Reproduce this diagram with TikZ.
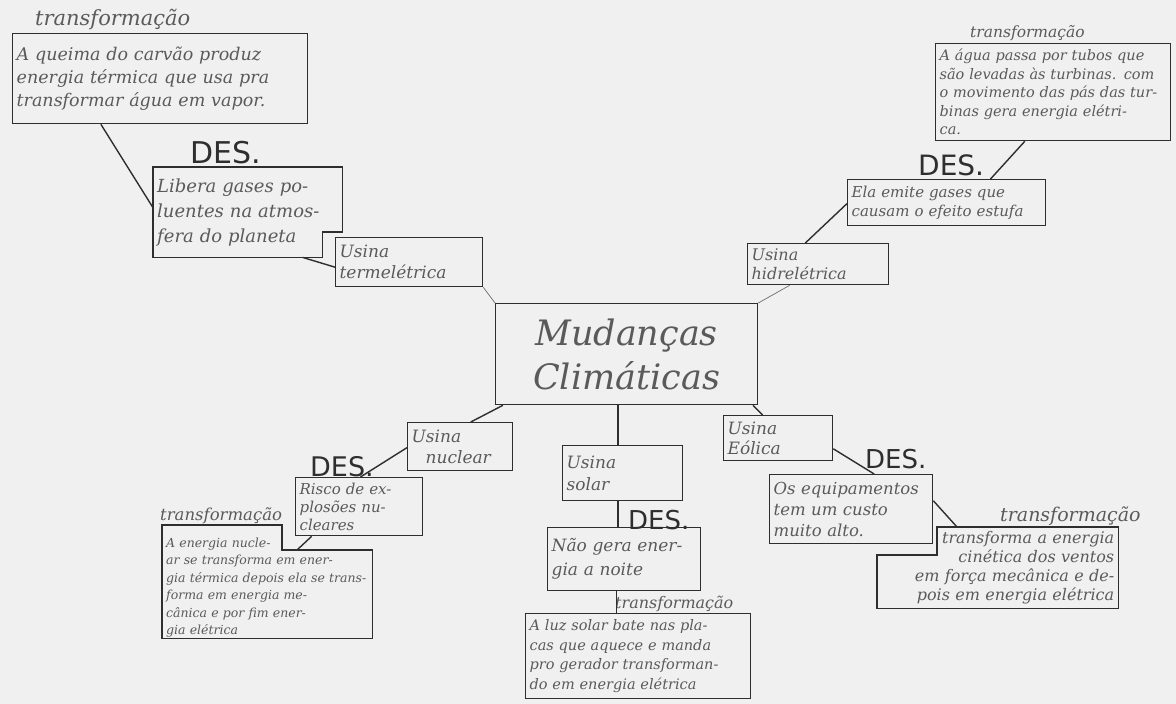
\documentclass[tikz,border=0pt]{standalone}
\usepackage{fontspec}
\setmainfont{DejaVu Serif}
\newfontfamily\desfont{DejaVu Sans}
\usetikzlibrary{calc}
\definecolor{paper}{HTML}{F0F0F0}
\definecolor{ink}{HTML}{2E2E2E}
\definecolor{pencil}{HTML}{5A5A5A}
\newcommand\hsz[2]{\fontsize{#1}{#2}\selectfont\itshape}
\tikzset{
  box/.style={draw=ink, line width=1.3pt, anchor=north west, inner xsep=4pt, inner ysep=0pt,
              align=left, text=pencil},
  shell/.style={anchor=north west, inner xsep=4pt, inner ysep=0pt, align=left, text=pencil},
  outline/.style={draw=ink, line width=1.3pt, line join=miter},
  link/.style={draw=ink, line width=1.4pt},
  thin/.style={draw=ink!70, line width=0.7pt},
  title/.style={anchor=south west, inner sep=0pt, text=pencil},
  des/.style={anchor=south west, inner sep=0pt, text=ink, font=\desfont},
}
\begin{document}
\begin{tikzpicture}[x=1pt,y=-1pt]
\useasboundingbox (0,0) rectangle (1176,704);
\fill[paper] (0,0) rectangle (1176,704);

% ---- central topic
\node[box, minimum width=262pt, minimum height=101pt, text width=254pt, align=center,
      font=\hsz{35}{44}] (c) at (495,303) {Mudanças\\Climáticas};

% ---- usina termelétrica branch
\node[box, minimum width=295pt, minimum height=90pt, text width=287pt, font=\hsz{17.5}{23}] (b1) at (12,33)
  {A queima do carvão produz\\energia térmica que usa pra\\transformar água em vapor.};
\node[title, font=\hsz{21}{24}] (t1) at (35,30) {transformação};
\node[shell, minimum width=189pt, minimum height=90pt, text width=181pt, font=\hsz{18}{25}] (b2) at (153,167)
  {Libera gases po-\\luentes na atmos-\\fera do planeta};
\draw[outline] (b2.north west) -- (b2.north east) -- ($(b2.north east)+(0,65)$)
  -- ($(b2.north east)+(-20,65)$) -- ($(b2.south east)+(-20,0)$) -- (b2.south west) -- cycle;
\node[des, font=\desfont\fontsize{30}{32}\selectfont] (d2) at (190,164) {DES.};
\node[box, minimum width=147pt, minimum height=49pt, text width=139pt, font=\hsz{17}{21}] (b3) at (335,237)
  {Usina\\termelétrica};

% ---- usina hidrelétrica branch
\node[box, minimum width=235pt, minimum height=97pt, text width=227pt, font=\hsz{14.5}{18.5}] (b4) at (935,43)
  {A água passa por tubos que\\são levadas às turbinas. com\\o movimento das pás das tur-\\binas gera energia elétri-\\ca.};
\node[title, font=\hsz{15.5}{18}] (t4) at (970,41) {transformação};
\node[box, minimum width=198pt, minimum height=46pt, text width=190pt, font=\hsz{15}{19}] (b5) at (847,179)
  {Ela emite gases que\\causam o efeito estufa};
\node[des, font=\desfont\fontsize{28}{30}\selectfont] (d5) at (918,176) {DES.};
\node[box, minimum width=141pt, minimum height=41pt, text width=133pt, font=\hsz{16}{19}] (b6) at (747,243)
  {Usina\\hidrelétrica};

% ---- usina nuclear branch
\node[box, minimum width=105pt, minimum height=48pt, text width=97pt, font=\hsz{17}{21}] (n) at (407,422)
  {Usina\\\hspace*{14pt}nuclear};
\node[box, minimum width=127pt, minimum height=58pt, text width=119pt, font=\hsz{15}{18}] (b9) at (295,477)
  {Risco de ex-\\plosões nu-\\cleares};
\node[des, font=\desfont\fontsize{27}{29}\selectfont] (d9) at (310,477) {DES.};
\node[shell, minimum width=210pt, minimum height=113pt, text width=202pt, font=\hsz{12.5}{17.5}] (b10) at (162,525)
  {\rule{0pt}{21pt}A energia nucle-\\ar se transforma em ener-\\gia térmica depois ela se trans-\\forma em energia me-\\cânica e por fim ener-\\gia elétrica};
\draw[outline] (b10.north west) -- ($(b10.north west)+(120,0)$) -- ($(b10.north west)+(120,25)$)
  -- ($(b10.north east)+(0,25)$) -- (b10.south east) -- (b10.south west) -- cycle;
\node[title, font=\hsz{16.5}{18}] (t10) at (160,524) {transformação};

% ---- usina solar branch
\node[box, minimum width=120pt, minimum height=55pt, text width=112pt, font=\hsz{17}{22}] (s) at (562,445)
  {Usina\\solar};
\node[box, minimum width=153pt, minimum height=63pt, text width=145pt, font=\hsz{17}{24}] (b12) at (547,527)
  {Não gera ener-\\gia a noite};
\node[des, font=\desfont\fontsize{26}{28}\selectfont] (d12) at (628,530) {DES.};
\node[box, minimum width=225pt, minimum height=85pt, text width=217pt, font=\hsz{14.5}{19.5}] (b13) at (525,613)
  {A luz solar bate nas pla-\\cas que aquece e manda\\pro gerador transforman-\\do em energia elétrica};
\node[title, font=\hsz{16}{18}] (t13) at (615,612) {transformação};

% ---- usina eólica branch
\node[box, minimum width=109pt, minimum height=45pt, text width=101pt, font=\hsz{17}{20}] (e) at (723,415)
  {Usina\\Eólica};
\node[box, minimum width=163pt, minimum height=69pt, text width=155pt, font=\hsz{16.5}{21}] (b15) at (769,474)
  {Os equipamentos\\tem um custo\\muito alto.};
\node[des, font=\desfont\fontsize{26}{28}\selectfont] (d15) at (865,469) {DES.};
\node[shell, minimum width=241pt, minimum height=81pt, text width=233pt, align=right, font=\hsz{16}{19}] (b16) at (877,527)
  {transforma a energia\\cinética dos ventos\\em força mecânica e de-\\pois em energia elétrica};
\draw[outline] ($(b16.north west)+(60,0)$) -- (b16.north east) -- (b16.south east) -- (b16.south west)
  -- ($(b16.north west)+(0,28)$) -- ($(b16.north west)+(60,28)$) -- cycle;
\node[title, font=\hsz{19}{21}] (t16) at (1000,526) {transformação};

% ---- connectors
\draw[link] ($(b1.south west)!0.3!(b1.south east)$) -- ($(b2.north west)!0.45!(b2.south west)$);
\draw[link] ($(b2.south west)!0.79!(b2.south east)$) -- ($(b3.north west)!0.6!(b3.south west)$);
\draw[thin] (b3.south east) -- (c.north west);
\draw[link] ($(b4.south west)!0.38!(b4.south east)$) -- ($(b5.north west)!0.72!(b5.north east)$);
\draw[link] ($(b5.north west)!0.52!(b5.south west)$) -- ($(b6.north west)!0.41!(b6.north east)$);
\draw[thin] ($(b6.south west)!0.3!(b6.south east)$) -- (c.north east);
\draw[link] ($(c.south west)!0.03!(c.south east)$) -- ($(n.north west)!0.6!(n.north east)$);
\draw[link] ($(n.north west)!0.52!(n.south west)$) -- ($(b9.north west)!0.51!(b9.north east)$);
\draw[link] ($(b9.south west)!0.13!(b9.south east)$) -- ($(b10.north west)+(135,25)$);
\coordinate (sx) at ($(s.north west)!0.46!(s.north east)$);
\draw[link] (sx) -- (sx |- c.south);
\coordinate (sy) at ($(s.south west)!0.46!(s.south east)$);
\draw[link] (sy) -- (sy |- b12.north);
\coordinate (sz) at ($(b12.south west)!0.45!(b12.south east)$);
\draw[link] (sz) -- (sz |- b13.north);
\draw[link] ($(c.south east)!0.02!(c.south west)$) -- ($(e.north west)!0.36!(e.north east)$);
\draw[link] ($(e.north east)!0.73!(e.south east)$) -- ($(b15.north west)!0.64!(b15.north east)$);
\draw[link] ($(b15.north east)!0.38!(b15.south east)$) -- ($(b16.north west)+(80,0)$);
\end{tikzpicture}
\end{document}
